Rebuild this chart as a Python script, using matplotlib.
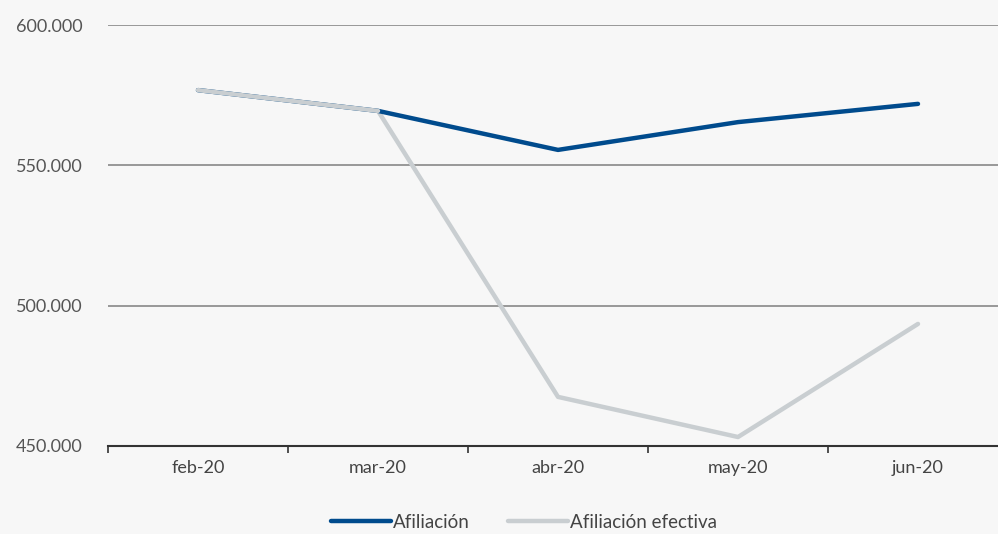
import matplotlib
matplotlib.use('Agg')
from matplotlib import pyplot as plt
from matplotlib.ticker import FuncFormatter

# Data ----------------------------------------------------------------
months = ['feb-20', 'mar-20', 'abr-20', 'may-20', 'jun-20']
afiliacion = [576800, 569400, 555500, 565400, 571900]
afiliacion_efectiva = [576800, 569400, 467500, 453200, 493500]

y_ticks = [450000, 500000, 550000, 600000]

plt.rcParams['font.family'] = ['Lato', 'DejaVu Sans']

bg = '#f7f7f7'
fig = plt.figure(figsize=(9.98, 5.34), dpi=100, facecolor=bg)
ax = fig.add_axes([108 / 998, (534 - 446) / 534, 900 / 998, 421 / 534], facecolor=bg)

x = list(range(len(months)))
ax.plot(x, afiliacion_efectiva, color='#c9ced1', lw=3.2, solid_capstyle='round',
        label='Afiliación efectiva', zorder=3)
ax.plot(x, afiliacion, color='#004b8d', lw=3.2, solid_capstyle='round',
        label='Afiliación', zorder=4)
# grey line drawn over blue where they overlap (feb-mar)
ax.plot(x[:2], afiliacion_efectiva[:2], color='#c9ced1', lw=3.2,
        solid_capstyle='round', zorder=5)

ax.set_xlim(-0.5, len(months) - 0.5)
ax.set_ylim(450000, 600000)
ax.set_yticks(y_ticks)
ax.yaxis.set_major_formatter(FuncFormatter(lambda v, p: '{:,.0f}'.format(v).replace(',', '.')))

ax.set_xticks(x)
ax.set_xticklabels(months)
ax.set_xticks([i - 0.5 for i in range(len(months) + 1)], minor=True)
ax.tick_params(axis='x', which='major', length=0, pad=10, labelsize=13, colors='#444444')
ax.tick_params(axis='x', which='minor', length=5, width=1.2, direction='out', color='#333333')
ax.tick_params(axis='y', length=0, pad=18, labelsize=13, colors='#555555')

ax.grid(axis='y', color='#888888', linewidth=1.2)
ax.set_axisbelow(True)
for side in ['top', 'right', 'left']:
    ax.spines[side].set_visible(False)
ax.spines['bottom'].set_color('#333333')
ax.spines['bottom'].set_linewidth(1.5)

handles, labels = ax.get_legend_handles_labels()
leg = fig.legend([handles[1], handles[0]], [labels[1], labels[0]],
                 loc='center', bbox_to_anchor=(0.525, 0.022), ncol=2, frameon=False,
                 fontsize=13.5, handlelength=3.2, handletextpad=0.1, columnspacing=2.0)
for t in leg.get_texts():
    t.set_color('#444444')

plt.savefig('out.png', dpi=100, facecolor=bg)
